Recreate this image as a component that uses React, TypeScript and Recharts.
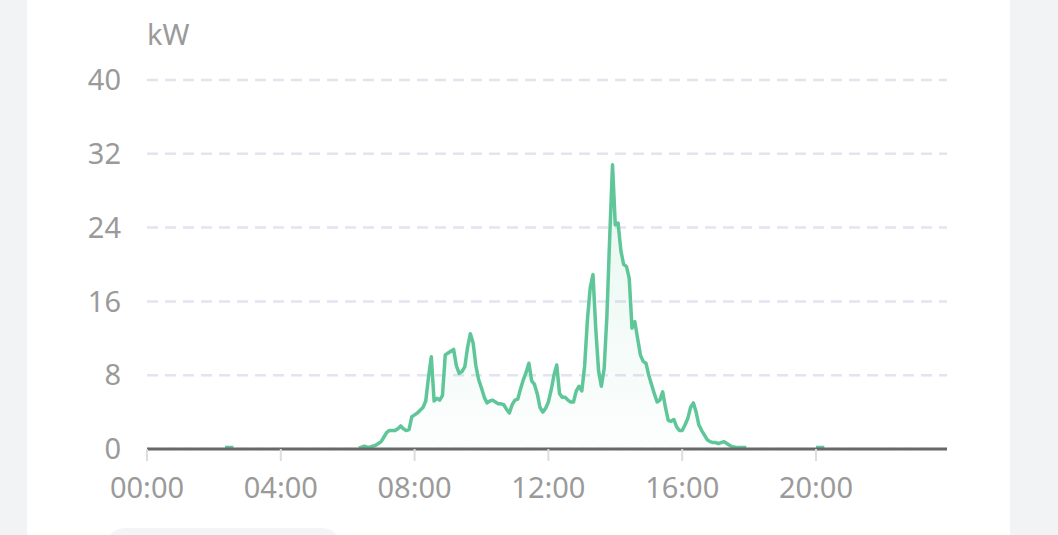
import React from 'react';
import {
  AreaChart,
  Area,
  XAxis,
  YAxis,
  CartesianGrid,
} from 'recharts';

// 5-minute slots over one day (288 slots); slots without a reading stay empty
const slotsPerDay = 288;
const slotMinutes = 5;

const nightBlipStart = 28; // 02:20
const nightBlip = [0.15, 0.15, 0.15, 0.15];

const dayStart = 76; // 06:20
const dayPower = [
  0.1, 0.2, 0.3, 0.2, 0.2, 0.3, 0.4, 0.6, 0.8, 1.3,
  1.8, 2.0, 2.0, 2.0, 2.2, 2.5, 2.2, 2.0, 2.1, 3.5,
  3.7, 3.9, 4.2, 4.5, 5.2, 7.8, 10.0, 5.2, 5.5, 5.3,
  5.8, 10.2, 10.4, 10.6, 10.8, 9.0, 8.2, 8.4, 8.9, 11.0,
  12.5, 11.5, 9.0, 7.5, 6.6, 5.6, 5.0, 5.2, 5.3, 5.1,
  4.9, 4.9, 4.8, 4.3, 3.9, 4.8, 5.3, 5.4, 6.5, 7.5,
  8.3, 9.3, 7.4, 7.0, 6.0, 4.5, 4.0, 4.4, 5.1, 6.4,
  8.0, 9.1, 6.0, 5.6, 5.6, 5.3, 5.1, 5.1, 6.3, 6.8,
  6.3, 9.0, 14.0, 17.5, 18.9, 13.0, 8.5, 6.8, 8.7, 14.5,
  23.0, 30.8, 24.3, 24.5, 21.5, 20.0, 19.8, 18.5, 13.1, 13.8,
  12.0, 10.2, 9.5, 9.3, 8.0, 7.0, 6.0, 5.1, 5.3, 6.2,
  4.5, 3.1, 3.0, 3.2, 2.4, 2.0, 2.0, 2.6, 3.3, 4.5,
  5.0, 4.0, 2.6, 2.0, 1.5, 1.0, 0.8, 0.7, 0.7, 0.6,
  0.7, 0.8, 0.6, 0.4, 0.25, 0.2, 0.15, 0.15, 0.15, 0.15,
];

const eveningBlipStart = 240; // 20:00
const eveningBlip = [0.15, 0.15, 0.15, 0.15];

const xTickSlots = [0, 48, 96, 144, 192, 240];
const yTicks = [0, 8, 16, 24, 32, 40];

const lineColor = '#5ec698';
const labelColor = '#9a9a9a';
const fontFamily = '"Noto Sans", "Open Sans", sans-serif';

const slotLabel = (slot: number) => {
  const mins = slot * slotMinutes;
  const hh = String(Math.floor(mins / 60)).padStart(2, '0');
  const mm = String(mins % 60).padStart(2, '0');
  return `${hh}:${mm}`;
};

const buildRows = () => {
  const rows: { slot: number; time: string; power: number | null }[] = [];
  for (let i = 0; i < slotsPerDay; i++) {
    rows.push({ slot: i, time: slotLabel(i), power: null });
  }
  const place = (start: number, values: number[]) => {
    values.forEach((v, k) => {
      rows[start + k].power = v;
    });
  };
  place(nightBlipStart, nightBlip);
  place(dayStart, dayPower);
  place(eveningBlipStart, eveningBlip);
  return rows;
};

const chartData = buildRows();

export default function App() {
  return (
    <div
      style={{
        position: 'absolute',
        left: 0,
        top: 0,
        width: 1058,
        height: 535,
        background: '#f2f3f5',
        overflow: 'hidden',
        fontFamily,
      }}
    >
      <div
        style={{
          position: 'absolute',
          left: 27,
          top: -20,
          width: 983,
          height: 600,
          background: '#ffffff',
        }}
      />
      <div
        style={{
          position: 'absolute',
          left: 105,
          top: 528,
          width: 237,
          height: 40,
          borderRadius: 20,
          background: '#f3f4f6',
        }}
      />
      <div
        style={{
          position: 'absolute',
          left: 147,
          top: 19,
          fontSize: 29,
          lineHeight: 1,
          color: labelColor,
        }}
      >
        kW
      </div>
      <div style={{ position: 'absolute', left: 0, top: 0 }}>
        <AreaChart
          width={1058}
          height={535}
          data={chartData}
          margin={{ top: 80, right: 111, bottom: 26, left: 0 }}
        >
          <defs>
            <linearGradient id="powerFill" x1="0" y1="0" x2="0" y2="1">
              <stop offset="0%" stopColor={lineColor} stopOpacity={0.25} />
              <stop offset="100%" stopColor={lineColor} stopOpacity={0.03} />
            </linearGradient>
          </defs>
          <CartesianGrid
            vertical={false}
            stroke="#e2e4f0"
            strokeWidth={2.5}
            strokeDasharray="11 7"
          />
          <XAxis
            dataKey="slot"
            type="number"
            domain={[0, slotsPerDay - 1]}
            ticks={xTickSlots}
            tickFormatter={slotLabel}
            height={60}
            tickSize={12}
            tickMargin={16}
            axisLine={{ stroke: '#686868', strokeWidth: 3 }}
            tickLine={{ stroke: '#dddddd', strokeWidth: 2 }}
            tick={{ fill: labelColor, fontSize: 29, fontFamily }}
          />
          <YAxis
            domain={[0, 40]}
            ticks={yTicks}
            width={147}
            axisLine={false}
            tickLine={false}
            tickSize={0}
            tickMargin={26}
            tick={{ fill: labelColor, fontSize: 29, fontFamily }}
          />
          <Area
            type="linear"
            dataKey="power"
            stroke={lineColor}
            strokeWidth={3.5}
            strokeLinejoin="round"
            fill="url(#powerFill)"
            connectNulls={false}
            dot={false}
            activeDot={false}
            isAnimationActive={false}
          />
        </AreaChart>
      </div>
    </div>
  );
}
